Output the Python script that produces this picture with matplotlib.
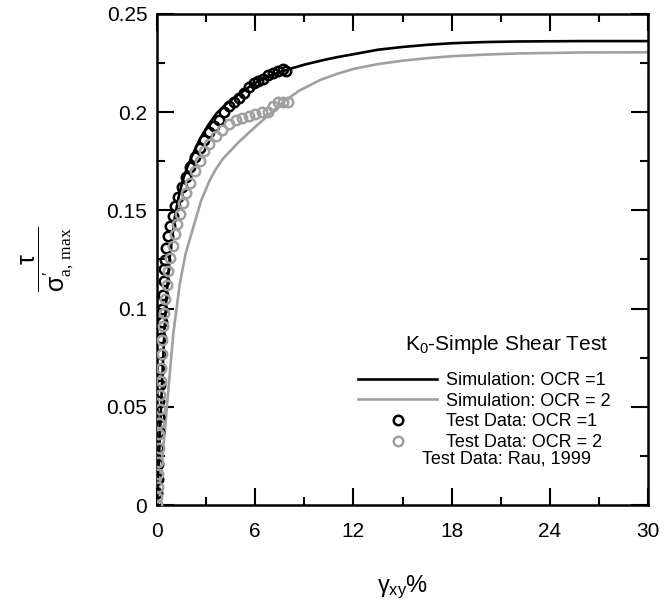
import matplotlib
matplotlib.use('Agg')
import matplotlib.pyplot as plt
from matplotlib.ticker import MultipleLocator, FormatStrFormatter
from matplotlib.lines import Line2D

# fonts: Arial-like sans, serif subscripts in the y label
plt.rcParams['font.family'] = ['Liberation Sans', 'DejaVu Sans']
plt.rcParams['mathtext.fontset'] = 'custom'
plt.rcParams['mathtext.it'] = 'Liberation Sans'
plt.rcParams['mathtext.rm'] = 'Liberation Serif'
plt.rcParams['mathtext.sf'] = 'Liberation Sans'

# simulation curves
sim1_x = [0, 0.15, 0.3, 0.45, 0.6, 0.8, 1.1, 1.35, 1.6, 1.85, 2.1, 2.6, 3.1, 3.65,
          4.2, 4.9, 5.9, 7.0, 8.1, 9.0, 10.2, 11, 12, 13.5, 15, 16.5, 18, 20, 22,
          26, 30]
sim1_y = [0, 0.030, 0.060, 0.088, 0.108, 0.128, 0.147, 0.158, 0.166, 0.172,
          0.177, 0.186, 0.193, 0.1995, 0.204, 0.2085, 0.2145, 0.219, 0.222,
          0.2242, 0.2266, 0.228, 0.2295, 0.2318, 0.2332, 0.2343, 0.2351, 0.2357,
          0.2360, 0.2362, 0.2362]

sim2_x = [0, 0.2, 0.45, 0.73, 1.0, 1.4, 1.75, 2.1, 2.7, 3.2, 3.6, 4.0, 4.9, 5.8,
          6.7, 7.7, 8.7, 10, 11, 12, 13.5, 15, 16.5, 18, 20, 22, 26, 30]
sim2_y = [0, 0.013, 0.035, 0.062, 0.0875, 0.113, 0.128, 0.138, 0.155, 0.165,
          0.171, 0.176, 0.184, 0.191, 0.1977, 0.205, 0.211, 0.2165, 0.2195,
          0.222, 0.2245, 0.2262, 0.2275, 0.2285, 0.2293, 0.2299, 0.2304, 0.2305]

# test data (Rau, 1999)
test1_x = [0.0, 0.03, 0.05, 0.07, 0.09, 0.11, 0.13, 0.15, 0.17, 0.19, 0.22, 0.25,
           0.28, 0.31, 0.35, 0.4, 0.45, 0.5, 0.58, 0.68, 0.8, 0.95, 1.1, 1.3,
           1.5, 1.75, 2.0, 2.3, 2.6, 2.9, 3.2, 3.5, 3.8, 4.1, 4.4, 4.7, 5.0,
           5.3, 5.6, 5.9, 6.2, 6.5, 6.8, 7.1, 7.4, 7.7, 7.9]
test1_y = [0.0, 0.006, 0.013, 0.021, 0.029, 0.037, 0.045, 0.053, 0.061, 0.069,
           0.077, 0.085, 0.093, 0.100, 0.107, 0.114, 0.120, 0.125, 0.131, 0.137,
           0.142, 0.147, 0.152, 0.157, 0.162, 0.167, 0.172, 0.177, 0.182, 0.186,
           0.190, 0.193, 0.196, 0.200, 0.203, 0.205, 0.207, 0.210, 0.213, 0.215,
           0.216, 0.217, 0.219, 0.220, 0.221, 0.222, 0.221]

test2_x = [0.0, 0.03, 0.05, 0.07, 0.09, 0.11, 0.13, 0.15, 0.17, 0.19, 0.22, 0.25,
           0.29, 0.33, 0.38, 0.44, 0.52, 0.6, 0.7, 0.82, 0.95, 1.1, 1.25, 1.4,
           1.6, 1.8, 2.0, 2.3, 2.6, 2.9, 3.2, 3.6, 4.0, 4.4, 4.8, 5.2, 5.6, 6.0,
           6.4, 6.8, 7.1, 7.4, 7.7, 8.0]
test2_y = [0.0, 0.004, 0.009, 0.016, 0.022, 0.029, 0.036, 0.042, 0.049, 0.056,
           0.063, 0.070, 0.077, 0.084, 0.091, 0.098, 0.105, 0.112, 0.119, 0.126,
           0.132, 0.138, 0.143, 0.148, 0.154, 0.159, 0.164, 0.170, 0.175, 0.180,
           0.184, 0.188, 0.191, 0.194, 0.196, 0.197, 0.198, 0.199, 0.200, 0.200,
           0.203, 0.205, 0.205, 0.205]

labels = ['Simulation: OCR =1', 'Simulation: OCR = 2',
          'Test Data: OCR =1', 'Test Data: OCR = 2']

black = '#000000'
grey = '#a0a0a0'

fig = plt.figure(figsize=(6.7, 6.0), dpi=100)
ax = fig.add_axes([0.2343, 0.1583, 0.7329, 0.8184])

ax.plot(sim1_x, sim1_y, color=black, lw=1.9, zorder=2)
ax.plot(sim2_x, sim2_y, color=grey, lw=1.9, zorder=2)
ax.plot(test1_x, test1_y, ls='none', marker='o', ms=6.8, mfc='none',
        mec=black, mew=1.8, zorder=3)
ax.plot(test2_x, test2_y, ls='none', marker='o', ms=6.8, mfc='none',
        mec=grey, mew=1.8, zorder=4)

ax.set_xlim(0, 30)
ax.set_ylim(0, 0.25)
ax.xaxis.set_major_locator(MultipleLocator(6))
ax.xaxis.set_minor_locator(MultipleLocator(3))
ax.yaxis.set_major_locator(MultipleLocator(0.05))
ax.yaxis.set_minor_locator(MultipleLocator(0.025))
ax.yaxis.set_major_formatter(FormatStrFormatter('%g'))

for s in ax.spines.values():
    s.set_linewidth(1.8)
ax.tick_params(which='both', direction='in', top=True, right=True, width=1.5)
ax.tick_params(which='major', length=12)
ax.tick_params(which='minor', length=6)
ax.tick_params(axis='x', which='major', pad=12, labelsize=15)
ax.tick_params(axis='y', which='major', pad=7, labelsize=15)

ax.set_xlabel(r'$\gamma_{\mathsf{xy}}$%', fontsize=17, labelpad=24)
ax.set_ylabel(r'$\dfrac{\tau}{\sigma^{\prime}_{\mathrm{a,\,max}}}$', fontsize=18,
              labelpad=22)

# legend
handles = [Line2D([], [], color=black, lw=1.9),
           Line2D([], [], color=grey, lw=1.9),
           Line2D([], [], ls='none', marker='o', ms=6.8, mfc='none', mec=black, mew=1.8),
           Line2D([], [], ls='none', marker='o', ms=6.8, mfc='none', mec=grey, mew=1.8)]
leg = ax.legend(handles, labels, loc='upper left', bbox_to_anchor=(358 / 670, 1 - 372 / 600),
                bbox_transform=fig.transFigure, frameon=False, fontsize=13,
                handlelength=4.4, handletextpad=0.5, labelspacing=0.2,
                borderpad=0, borderaxespad=0, numpoints=1)

fig.text(507 / 670, 1 - 345 / 600, r'K$_{\mathsf{0}}$-Simple Shear Test', fontsize=15,
         ha='center', va='center')
fig.text(507 / 670, 1 - 459 / 600, 'Test Data: Rau, 1999', fontsize=13,
         ha='center', va='center')

fig.savefig('out.png', dpi=100, facecolor='white')
